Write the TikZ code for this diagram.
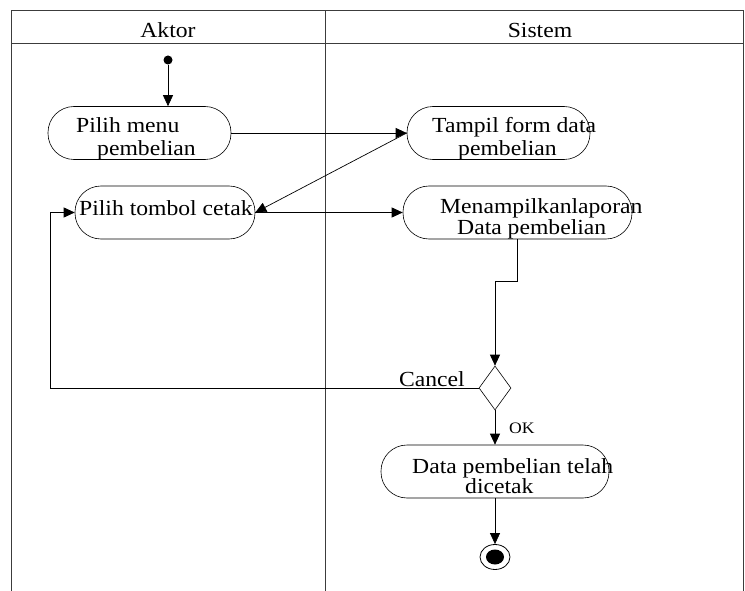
\documentclass[tikz,border=0pt]{standalone}
\usepackage{fontspec}
\setmainfont{Liberation Serif}[FakeStretch=1.1]
\usepackage{tikz}
\usetikzlibrary{shapes.geometric, arrows.meta, positioning, calc}
\definecolor{laneColor}{RGB}{60, 60, 60}
\tikzset{
  act/.style={draw, rounded corners=26pt, minimum height=53pt, inner sep=0pt, line width=0.6pt},
  txt/.style={inner sep=0pt, anchor=base west, font=\fontsize{21.5}{24}\selectfont},
  flow/.style={-{Triangle[length=11pt,width=10pt]}, line width=0.7pt},
  lane/.style={draw=laneColor, line width=1pt}
}

\begin{document}
\begin{tikzpicture}[x=1pt, y=-1pt]
\useasboundingbox (0,0) rectangle (745,591);
\draw[lane] (11,591) |- (743,11) -- (743,591);
\draw[lane] (11,44) -- (743,44);
\draw[lane] (325,11) -- (325,591);
\node[txt, anchor=base] (aktor) at (168,38) {Aktor};
\node[txt, anchor=base] (sistem) at (540,38) {Sistem};

\node[circle, fill, minimum size=9pt, inner sep=0pt] (start) at (168,60) {};
\node[act, minimum width=183pt] (menu) at (139.5,133) {};
\node[txt] (menuA) at (76,133) {Pilih menu};
\node[txt] (menuB) at (97,156) {pembelian};
\node[act, minimum width=183pt] (form) at (498.5,133) {};
\node[txt] (formA) at (432,133) {Tampil form data};
\node[txt] (formB) at (458,156) {pembelian};
\node[act, minimum width=180pt] (cetak) at (165,212.5) {};
\node[txt] (cetakA) at (79,215) {Pilih tombol cetak};
\node[act, minimum width=229pt] (lapor) at (517.5,212.5) {};
\node[txt] (laporA) at (440,214) {Menampilkanlaporan};
\node[txt] (laporB) at (457,234) {Data pembelian};
\node[diamond, draw, line width=0.6pt, minimum width=32pt, minimum height=44pt, inner sep=0pt] (pilih) at (495,388) {};
\node[txt, anchor=base east] (cancel) at (465,386) {Cancel};
\node[txt, font=\fontsize{16}{18}\selectfont] (ok) at (509,433) {OK};
\node[act, minimum width=228pt] (selesai) at (495,471.5) {};
\node[txt] (selesaiA) at (412,473) {Data pembelian telah};
\node[txt] (selesaiB) at (465,493) {dicetak};
\node[ellipse, draw, line width=0.8pt, minimum width=30pt, minimum height=25pt, inner sep=0pt] (stop) at (495,557) {};
\fill (stop) ellipse [x radius=9pt, y radius=7.5pt];

\draw[flow] (start) -- (start |- menu.north);
\draw[flow] (menu.east) -- (form.west);
\draw[flow] (form.west) -- (cetak.east);
\draw[flow] (cetak.east) -- (lapor.west);
\draw[flow] (lapor.south) -- ++(0,42) -| (pilih.north);
\draw[flow] (pilih.west) -- ++(-428,0) |- (cetak.west);
\draw[flow] (pilih.south) -- (selesai.north);
\draw[flow] (selesai.south) -- (stop.north);
\end{tikzpicture}
\end{document}
